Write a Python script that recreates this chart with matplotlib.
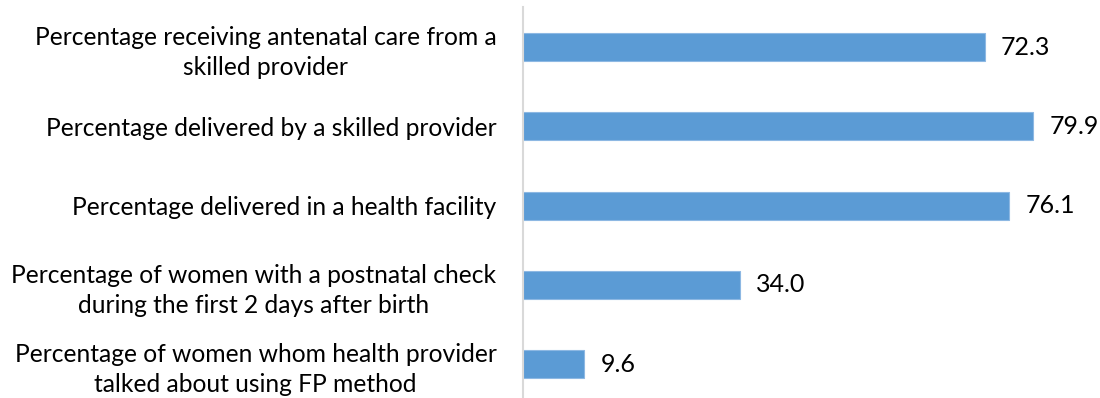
import matplotlib.pyplot as plt

labels = ['Percentage receiving antenatal care from a\nskilled provider',
          'Percentage delivered by a skilled provider',
          'Percentage delivered in a health facility',
          'Percentage of women with a postnatal check\nduring the first 2 days after birth',
          'Percentage of women whom health provider\ntalked about using FP method']
values = [72.3, 79.9, 76.1, 34.0, 9.6]

plt.rcParams['font.family'] = ['Lato', 'DejaVu Sans']

fig = plt.figure(figsize=(11, 3.98), dpi=100)
ax = fig.add_axes([523/1100, -0.0148, 575/1100, 0.9962])

pos = list(range(len(values)))
bars = ax.barh(pos, values, height=0.35, color='#5b9bd5', edgecolor='#8db8e3', linewidth=0.8)
ax.set_ylim(4.5, -0.5)
ax.set_xlim(0, 90)

for b, v in zip(bars, values):
    ax.text(b.get_width() + 2.5, b.get_y() + b.get_height()/2, f'{v:.1f}',
            va='center', ha='left', fontsize=18)

ax.set_yticks(pos)
ax.set_yticklabels(labels, fontsize=17.7, multialignment='center', linespacing=1.38)
ax.tick_params(axis='y', length=0, pad=19)
ax.set_xticks([])
for s in ['top', 'right', 'bottom']:
    ax.spines[s].set_visible(False)
ax.spines['left'].set_color('#d9d9d9')
ax.spines['left'].set_linewidth(1.5)

fig.savefig('out.png', dpi=100)
